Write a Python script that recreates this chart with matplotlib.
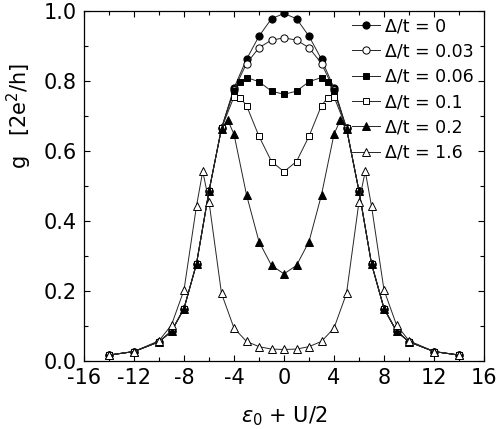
import matplotlib
matplotlib.use("Agg")
import matplotlib.pyplot as plt
from matplotlib.ticker import MultipleLocator

plt.rcParams['font.family'] = ['DejaVu Sans']
plt.rcParams['axes.unicode_minus'] = False
plt.rcParams['mathtext.fontset'] = 'dejavusans'

# x = eps0 + U/2, y = g [2e^2/h]
x_base = [-14, -12, -10, -9, -8, -7, -6, -5, -4, -3, -2, -1, 0,
          1, 2, 3, 4, 5, 6, 7, 8, 9, 10, 12, 14]
g_d0 = [0.017, 0.027, 0.055, 0.085, 0.150, 0.278, 0.485, 0.665, 0.780, 0.862, 0.928, 0.978, 0.993,
        0.978, 0.928, 0.862, 0.780, 0.665, 0.485, 0.278, 0.150, 0.085, 0.055, 0.027, 0.017]
g_d003 = [0.017, 0.027, 0.055, 0.085, 0.150, 0.278, 0.485, 0.665, 0.775, 0.850, 0.895, 0.917, 0.923,
          0.917, 0.895, 0.850, 0.775, 0.665, 0.485, 0.278, 0.150, 0.085, 0.055, 0.027, 0.017]

x_d006 = [-14, -12, -10, -9, -8, -7, -6, -5, -4, -3.5, -3, -2, -1, 0,
          1, 2, 3, 3.5, 4, 5, 6, 7, 8, 9, 10, 12, 14]
g_d006 = [0.017, 0.027, 0.055, 0.085, 0.150, 0.278, 0.485, 0.665, 0.772, 0.797, 0.810, 0.798, 0.771, 0.762,
          0.771, 0.798, 0.810, 0.797, 0.772, 0.665, 0.485, 0.278, 0.150, 0.085, 0.055, 0.027, 0.017]
g_d01 = [0.017, 0.027, 0.055, 0.085, 0.150, 0.278, 0.485, 0.665, 0.755, 0.752, 0.730, 0.642, 0.570, 0.541,
         0.570, 0.642, 0.730, 0.752, 0.755, 0.665, 0.485, 0.278, 0.150, 0.085, 0.055, 0.027, 0.017]

x_d02 = [-14, -12, -10, -9, -8, -7, -6, -5, -4.5, -4, -3, -2, -1, 0,
         1, 2, 3, 4, 4.5, 5, 6, 7, 8, 9, 10, 12, 14]
g_d02 = [0.017, 0.027, 0.055, 0.085, 0.150, 0.278, 0.487, 0.663, 0.688, 0.648, 0.475, 0.341, 0.273, 0.249,
         0.273, 0.341, 0.475, 0.648, 0.688, 0.663, 0.487, 0.278, 0.150, 0.085, 0.055, 0.027, 0.017]

x_d16 = [-14, -12, -10, -9, -8, -7, -6.5, -6, -5, -4, -3, -2, -1, 0,
         1, 2, 3, 4, 5, 6, 6.5, 7, 8, 9, 10, 12, 14]
g_d16 = [0.017, 0.027, 0.058, 0.103, 0.203, 0.443, 0.542, 0.455, 0.193, 0.094, 0.056, 0.041, 0.034, 0.033,
         0.034, 0.041, 0.056, 0.094, 0.193, 0.455, 0.542, 0.443, 0.203, 0.103, 0.058, 0.027, 0.017]

labels = ['Δ/t = 0', 'Δ/t = 0.03', 'Δ/t = 0.06', 'Δ/t = 0.1', 'Δ/t = 0.2', 'Δ/t = 1.6']

fig = plt.figure(figsize=(4.98, 4.29), dpi=100)
ax = fig.add_axes([84/498, 1 - 361/429, 400/498, 350/429])

series = [
    (x_base, g_d0, 'o', 'black'),
    (x_base, g_d003, 'o', 'white'),
    (x_d006, g_d006, 's', 'black'),
    (x_d006, g_d01, 's', 'white'),
    (x_d02, g_d02, '^', 'black'),
    (x_d16, g_d16, '^', 'white'),
]
for (xs, ys, m, fc), lab in zip(series, labels):
    ax.plot(xs, ys, '-', color='0.15', lw=0.7, marker=m, ms=5.2 if m != 's' else 4.8,
            mfc=fc, mec='black', mew=0.7, label=lab)

ax.set_xlim(-16, 16)
ax.set_ylim(0, 1.0)
ax.xaxis.set_major_locator(MultipleLocator(4))
ax.xaxis.set_minor_locator(MultipleLocator(2))
ax.yaxis.set_major_locator(MultipleLocator(0.2))
ax.yaxis.set_minor_locator(MultipleLocator(0.1))
ax.tick_params(which='both', direction='in', top=True, right=True, labelsize=15, width=0.8)
ax.tick_params(which='major', length=4, pad=5)
ax.tick_params(which='minor', length=3)
for s in ax.spines.values():
    s.set_linewidth(0.9)

ax.set_xlabel(r'$\varepsilon_0$ + U/2', fontsize=15)
ax.xaxis.set_label_coords(0.5, -0.125)
ax.set_ylabel(r'g   [2e$^2$/h]', fontsize=15)
ax.yaxis.set_label_coords(-0.125, 0.7)

ax.legend(loc='upper right', bbox_to_anchor=(1.0, 1.012), frameon=False, fontsize=12.5,
          handlelength=1.6, handletextpad=0.3, labelspacing=0.42, borderaxespad=0.2)

fig.savefig('out.png', dpi=100)
